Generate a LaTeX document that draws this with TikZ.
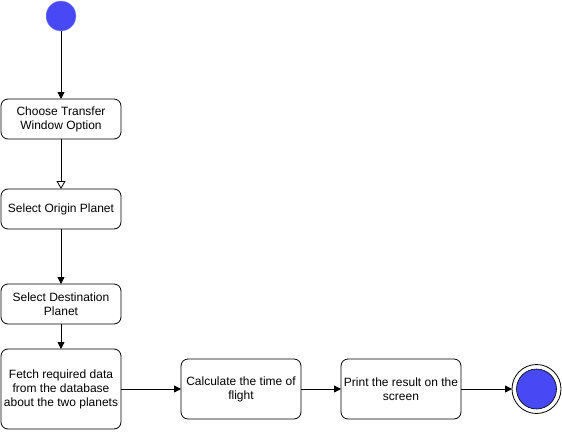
\documentclass[tikz,border=0pt]{standalone}
\usepackage{fontspec}
\setmainfont{Liberation Sans}
\usetikzlibrary{positioning,arrows.meta}
\definecolor{dotblue}{RGB}{72,72,245}

\begin{document}
\begin{tikzpicture}[x=1pt,y=1pt,node distance=50pt,
  action/.style={draw,rounded corners=7pt,minimum width=120pt,minimum height=40pt,
    align=center,font=\fontsize{12}{14}\selectfont,line width=0.8pt,inner sep=2pt,outer sep=0pt},
  startdot/.style={circle,fill=dotblue,draw=dotblue!60,minimum size=30pt,inner sep=0pt,outer sep=0pt},
  flow/.style={-{Triangle[length=7pt,width=7pt]},line width=0.8pt},
  openflow/.style={-{Triangle[open,length=8pt,width=9pt]},line width=0.8pt}]
  \useasboundingbox (0,0) rectangle (562,-431);

  \node[startdot] (start) at (61,-16) {};
  \node[action,below=68pt of start] (choose) {Choose Transfer\\Window Option};
  \node[action,below=50pt of choose] (origin) {Select Origin Planet};
  \node[action,below=55pt of origin] (dest) {Select Destination\\Planet};
  \node[action,below=25pt of dest,minimum height=80pt] (fetch) {Fetch required data\\from the database\\about the two planets};
  \node[action,right=60pt of fetch,minimum height=60pt] (calc) {Calculate the time of\\flight};
  \node[action,right=40pt of calc,minimum height=60pt] (print) {Print the result on the\\screen};
  \node[circle,draw,line width=0.8pt,minimum size=49pt,inner sep=0pt,outer sep=0pt,right=51pt of print] (stop) {};
  \node[circle,fill=dotblue,draw=black,line width=0.6pt,minimum size=40pt,inner sep=0pt] (stopdot) at (stop) {};

  \draw[flow] (start) -- (choose);
  \draw[openflow] (choose) -- (origin);
  \draw[flow] (origin) -- (dest);
  \draw[flow] (dest) -- (fetch);
  \draw[flow] (fetch) -- (calc);
  \draw[flow] (calc) -- (print);
  \draw[flow] (print) -- (stop);
\end{tikzpicture}
\end{document}
